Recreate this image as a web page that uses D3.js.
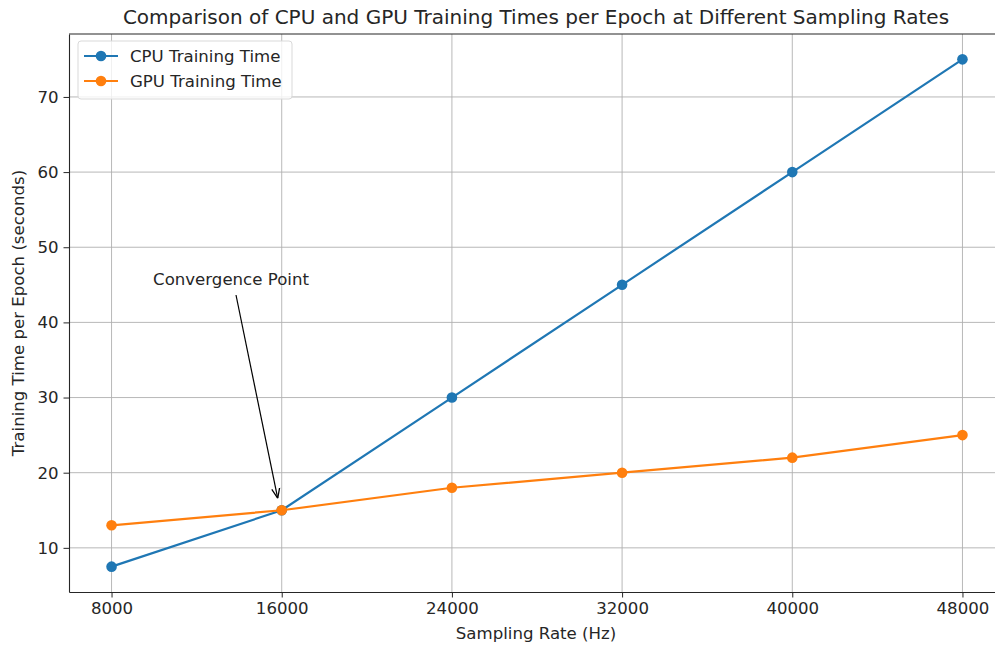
<!DOCTYPE html>
<html>
<head>
<meta charset="utf-8">
<script src="https://cdn.jsdelivr.net/npm/d3@7"></script>
<style>
  body { margin: 0; background: #fff; }
  text { font-family: "DejaVu Sans", sans-serif; fill: #262626; }
  .grid line { stroke: #b0b0b0; stroke-width: 0.9; }
  .axis path, .axis line { stroke: #262626; }
</style>
</head>
<body>
<script>
// data
var samplingRates = [8000, 16000, 24000, 32000, 40000, 48000];
var cpuTimes = [7.5, 15, 30, 45, 60, 75];
var gpuTimes = [13, 15, 18, 20, 22, 25];
var yTicks = [10, 20, 30, 40, 50, 60, 70];
var seriesNames = ["CPU Training Time", "GPU Training Time"];
var seriesColors = ["#1f77b4", "#ff7f0e"];

var width = 995, height = 648;
var margin = {top: 34, right: -10, bottom: 56, left: 69};
var fontSize = "16.6px";

var svg = d3.select("body").append("svg")
    .attr("width", width)
    .attr("height", height);

// matplotlib style 5% padding around data
var xPad = (d3.max(samplingRates) - d3.min(samplingRates)) * 0.05;
var yAll = cpuTimes.concat(gpuTimes);
var yPad = (d3.max(yAll) - d3.min(yAll)) * 0.05;

var x = d3.scaleLinear()
    .domain([d3.min(samplingRates) - xPad, d3.max(samplingRates) + xPad])
    .range([margin.left, width - margin.right]);

var y = d3.scaleLinear()
    .domain([d3.min(yAll) - yPad, d3.max(yAll) + yPad])
    .range([height - margin.bottom, margin.top]);

// grid
svg.append("g").attr("class", "grid")
  .selectAll("line").data(samplingRates).enter().append("line")
    .attr("x1", d => x(d)).attr("x2", d => x(d))
    .attr("y1", y.range()[0]).attr("y2", y.range()[1]);
svg.append("g").attr("class", "grid")
  .selectAll("line").data(yTicks).enter().append("line")
    .attr("y1", d => y(d)).attr("y2", d => y(d))
    .attr("x1", x.range()[0]).attr("x2", x.range()[1]);

// axes
svg.append("g").attr("class", "axis")
    .attr("transform", "translate(0," + y.range()[0] + ")")
    .call(d3.axisBottom(x).tickValues(samplingRates).tickFormat(d3.format("d"))
      .tickSizeInner(5.5).tickSizeOuter(0).tickPadding(5));
svg.append("g").attr("class", "axis")
    .attr("transform", "translate(" + x.range()[0] + ",0)")
    .call(d3.axisLeft(y).tickValues(yTicks)
      .tickSizeInner(5.5).tickSizeOuter(0).tickPadding(5));
svg.selectAll(".axis text").style("font-size", fontSize).style("font-family", "DejaVu Sans");
svg.selectAll(".axis path").attr("stroke-width", 1.1);
// top border of the frame
svg.append("line")
    .attr("x1", x.range()[0]).attr("x2", x.range()[1])
    .attr("y1", y.range()[1]).attr("y2", y.range()[1])
    .attr("stroke", "#262626").attr("stroke-width", 1.1);

// series
var line = d3.line()
    .x(d => x(d[0]))
    .y(d => y(d[1]));

[cpuTimes, gpuTimes].forEach(function(vals, i) {
  var pts = samplingRates.map((r, j) => [r, vals[j]]);
  svg.append("path")
      .datum(pts)
      .attr("fill", "none")
      .attr("stroke", seriesColors[i])
      .attr("stroke-width", 2.2)
      .attr("d", line);
  svg.append("g").selectAll("circle").data(pts).enter().append("circle")
      .attr("cx", d => x(d[0]))
      .attr("cy", d => y(d[1]))
      .attr("r", 5.3)
      .attr("fill", seriesColors[i]);
});

// annotation
svg.append("defs").append("marker")
    .attr("id", "arrowhead")
    .attr("viewBox", "0 0 10 10")
    .attr("refX", 10).attr("refY", 5)
    .attr("markerWidth", 10).attr("markerHeight", 10)
    .attr("markerUnits", "userSpaceOnUse")
    .attr("orient", "auto")
  .append("path")
    .attr("d", "M0,1 L10,5 L0,9")
    .attr("fill", "none")
    .attr("stroke", "#000")
    .attr("stroke-width", 1.3);

svg.append("line")
    .attr("x1", 236).attr("y1", 295)
    .attr("x2", x(16000) - 4).attr("y2", y(15) - 12)
    .attr("stroke", "#000")
    .attr("stroke-width", 1.2)
    .attr("marker-end", "url(#arrowhead)");

svg.append("text")
    .attr("x", 231).attr("y", 285)
    .attr("text-anchor", "middle")
    .style("font-size", fontSize)
    .text("Convergence Point");

// legend
var legend = svg.append("g").attr("transform", "translate(78,41)");
legend.append("rect")
    .attr("width", 214).attr("height", 58)
    .attr("rx", 3)
    .attr("fill", "#fff").attr("fill-opacity", 0.8)
    .attr("stroke", "#d9d9d9");
seriesNames.forEach(function(name, i) {
  var g = legend.append("g").attr("transform", "translate(0," + (15 + i * 25) + ")");
  g.append("line").attr("x1", 6).attr("x2", 40)
      .attr("stroke", seriesColors[i]).attr("stroke-width", 2.2);
  g.append("circle").attr("cx", 23).attr("r", 5.3).attr("fill", seriesColors[i]);
  g.append("text").attr("x", 52).attr("dy", "0.35em")
      .style("font-size", fontSize).text(name);
});

// titles
svg.append("text")
    .attr("x", 536).attr("y", 24)
    .attr("text-anchor", "middle")
    .style("font-size", "20px")
    .text("Comparison of CPU and GPU Training Times per Epoch at Different Sampling Rates");

svg.append("text")
    .attr("x", 536).attr("y", 639)
    .attr("text-anchor", "middle")
    .style("font-size", fontSize)
    .text("Sampling Rate (Hz)");

svg.append("text")
    .attr("transform", "translate(24," + ((y.range()[0] + y.range()[1]) / 2) + ") rotate(-90)")
    .attr("text-anchor", "middle")
    .style("font-size", fontSize)
    .text("Training Time per Epoch (seconds)");
</script>
</body>
</html>
